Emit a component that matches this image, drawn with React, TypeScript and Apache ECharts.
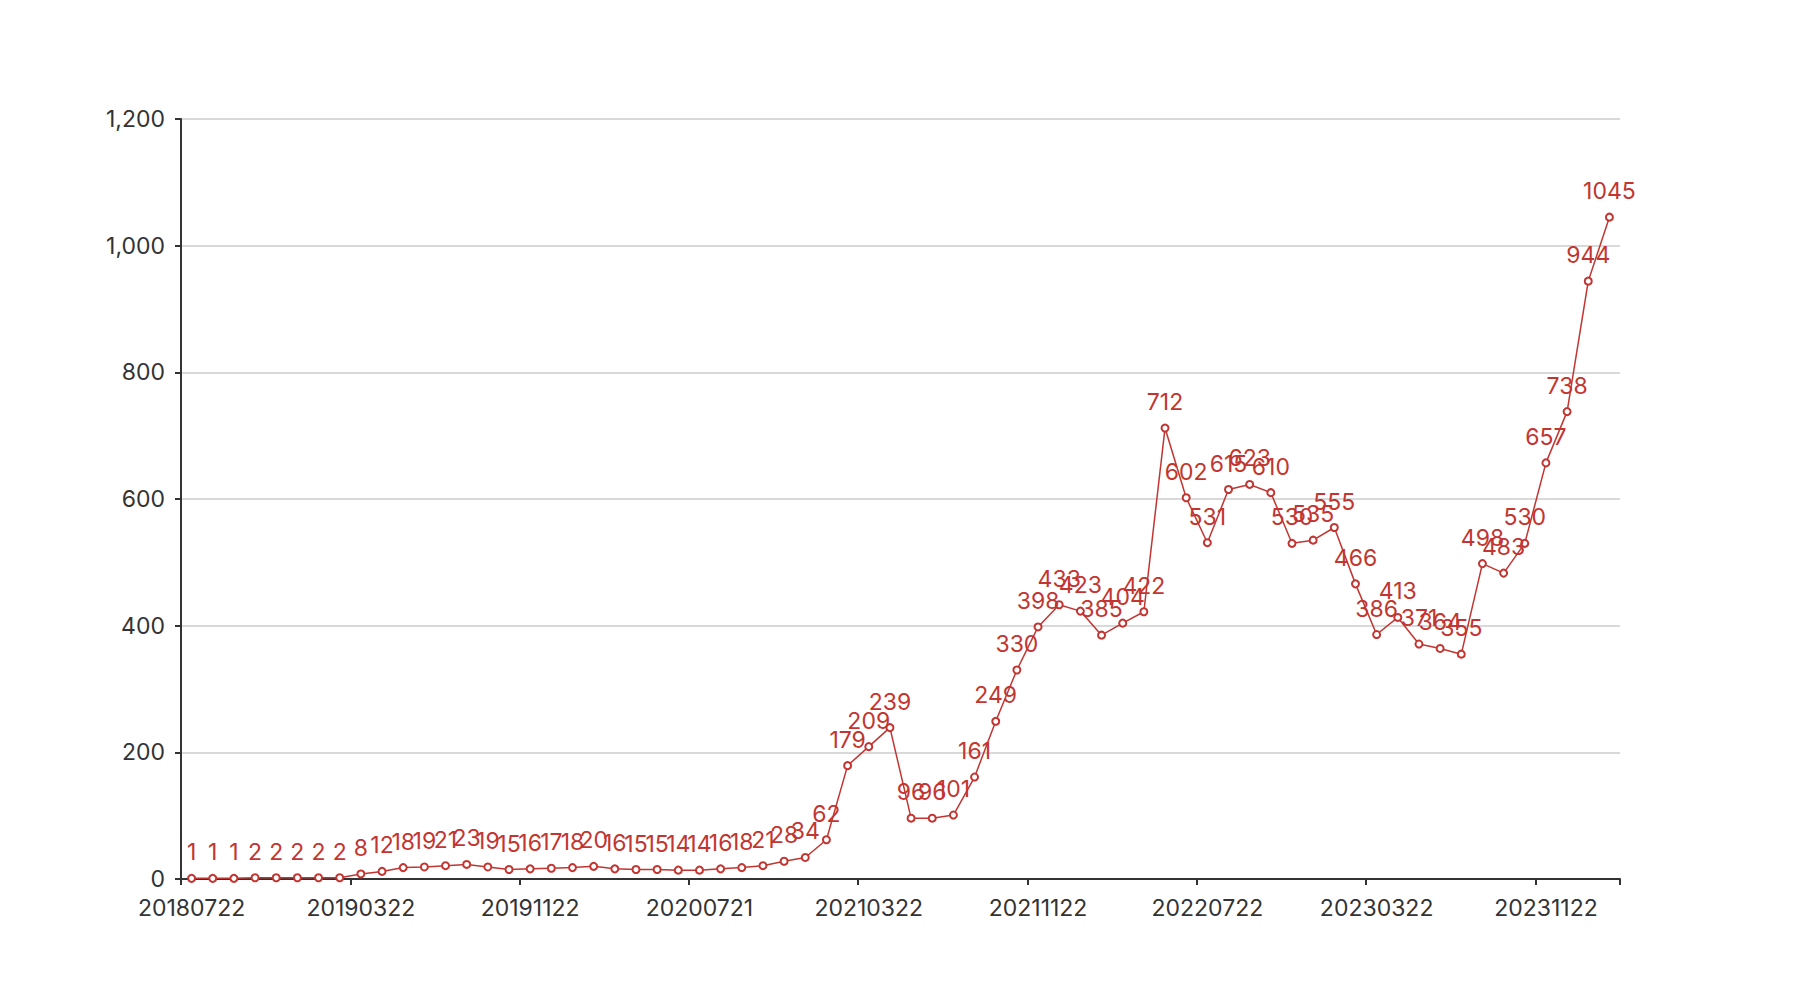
import React, { useEffect, useRef } from "react";
import * as echarts from "echarts";

const categories = [
  "20180722", "20180822", "20180922", "20181022", "20181122", "20181222", "20190122", "20190222",
  "20190322", "20190422", "20190522", "20190622", "20190722", "20190822", "20190922", "20191022",
  "20191122", "20191222", "20200122", "20200222", "20200322", "20200422", "20200522", "20200622",
  "20200721", "20200822", "20200922", "20201022", "20201122", "20201222", "20210122", "20210222",
  "20210322", "20210422", "20210522", "20210622", "20210722", "20210822", "20210922", "20211022",
  "20211122", "20211222", "20220122", "20220222", "20220322", "20220422", "20220522", "20220622",
  "20220722", "20220822", "20220922", "20221022", "20221122", "20221222", "20230122", "20230222",
  "20230322", "20230422", "20230522", "20230622", "20230722", "20230822", "20230922", "20231022",
  "20231122", "20231222", "20240122", "20240222",
];

const values = [
  1, 1, 1, 2, 2, 2, 2, 2,
  8, 12, 18, 19, 21, 23, 19, 15,
  16, 17, 18, 20, 16, 15, 15, 14,
  14, 16, 18, 21, 28, 34, 62, 179,
  209, 239, 96, 96, 101, 161, 249, 330,
  398, 433, 423, 385, 404, 422, 712, 602,
  531, 615, 623, 610, 530, 535, 555, 466,
  386, 413, 371, 364, 355, 498, 483, 530,
  657, 738, 944, 1045,
];

const FONT = "Inter, 'Noto Sans', sans-serif";
const RED = "#c23531";

export default function App() {
  const ref = useRef<HTMLDivElement>(null);
  useEffect(() => {
    if (!ref.current) return;
    const chart = echarts.init(ref.current, undefined, { renderer: "svg" });
    chart.setOption({
      animation: false,
      textStyle: { fontFamily: FONT },
      grid: { left: 181, right: 180, top: 119, bottom: 121 },
      xAxis: {
        type: "category",
        data: categories,
        boundaryGap: true,
        axisLine: { lineStyle: { color: "#333", width: 2 } },
        axisTick: { show: true, interval: 7, length: 6, lineStyle: { color: "#333", width: 2 } },
        axisLabel: { interval: 7, color: "#333", fontSize: 23, margin: 17, fontFamily: FONT },
      },
      yAxis: {
        type: "value",
        min: 0,
        max: 1200,
        interval: 200,
        axisLine: { show: true, lineStyle: { color: "#333", width: 2 } },
        axisTick: { show: true, length: 6, lineStyle: { color: "#333", width: 2 } },
        axisLabel: { color: "#333", fontSize: 23, margin: 16, fontFamily: FONT },
        splitLine: { lineStyle: { color: "#ccc", width: 1.5 } },
      },
      series: [
        {
          type: "line",
          data: values,
          symbol: "emptyCircle",
          symbolSize: 7,
          itemStyle: { color: RED, borderWidth: 1.5 },
          lineStyle: { color: RED, width: 1.5 },
          label: { show: true, position: "top", distance: 10, color: RED, fontSize: 23, fontFamily: FONT },
        },
      ],
    });
    return () => chart.dispose();
  }, []);
  return (
    <div
      ref={ref}
      style={{ position: "absolute", left: 0, top: 0, width: 1800, height: 1000 }}
    />
  );
}
